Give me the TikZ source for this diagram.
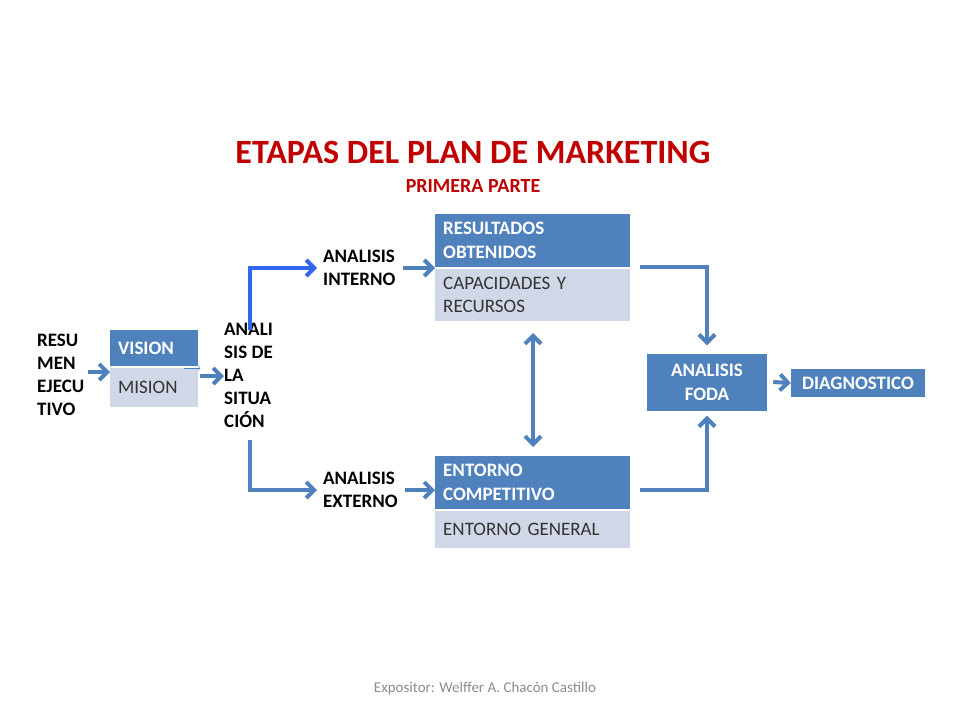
\documentclass[tikz,border=0pt]{standalone}
\usepackage{fontspec}
\setmainfont{Carlito}
\usetikzlibrary{arrows.meta,positioning}
\definecolor{darkbox}{HTML}{4F81BD}
\definecolor{lightbox}{HTML}{D0D8E8}
\definecolor{brightblue}{HTML}{3366EE}
\definecolor{titlered}{HTML}{C00000}
\tikzset{
  headbox/.style={fill=darkbox,text=white,font=\bfseries\fontsize{19}{24}\selectfont,align=left,anchor=north west,inner sep=8pt,text width=#1},
  subbox/.style={fill=lightbox,text=black!80,font=\fontsize{19}{23}\selectfont,align=left,anchor=north west,inner sep=8pt,text width=#1},
  steplabel/.style={font=\bfseries\fontsize{19}{23}\selectfont,align=left,anchor=west,inner sep=0pt},
  flow/.style={line width=4pt,color=darkbox,-{Straight Barb[length=8pt,width=16pt]}},
}
\begin{document}
\begin{tikzpicture}[x=1pt,y=-1pt]
  \useasboundingbox (0,0) rectangle (960,720);

  % titles
  \node[text=titlered,font=\bfseries\fontsize{34}{40}\selectfont] (title) at (473,152) {ETAPAS DEL PLAN DE MARKETING};
  \node[text=titlered,font=\bfseries\fontsize{20}{24}\selectfont] (subtitle) at (473,186) {PRIMERA PARTE};

  % left column
  \node[steplabel] (resumen) at (37,375) {RESU\\MEN\\EJECU\\TIVO};
  \node[headbox=72pt,minimum height=36pt] (vision) at (110,330) {VISION};
  \node[subbox=72pt,minimum height=39pt] (mision) at (110,368) {MISION};
  \node[steplabel] (situacion) at (224,375) {ANALI\\SIS DE\\LA\\SITUA\\CIÓN};

  % middle
  \node[steplabel] (interno) at (323,268) {ANALISIS\\INTERNO};
  \node[steplabel] (externo) at (323,490) {ANALISIS\\EXTERNO};
  \node[headbox=179pt,minimum height=52pt] (resultados) at (435,214) {RESULTADOS\\OBTENIDOS};
  \node[subbox=179pt,minimum height=52pt] (capacidades) at (435,269) {CAPACIDADES Y\\RECURSOS};
  \node[headbox=179pt,minimum height=52pt] (competitivo) at (435,456) {ENTORNO\\COMPETITIVO};
  \node[subbox=179pt,minimum height=37pt] (general) at (435,511) {ENTORNO GENERAL};

  % right
  \node[fill=darkbox,text=white,font=\bfseries\fontsize{19}{24}\selectfont,align=center,minimum width=120pt,minimum height=57pt,inner sep=2pt] (foda) at (707,382) {ANALISIS\\FODA};
  \node[fill=darkbox,text=white,font=\bfseries\fontsize{19}{22}\selectfont,minimum width=134pt,minimum height=28pt,inner sep=2pt] (diagnostico) at (858,383) {DIAGNOSTICO};

  \node[text=black!45,font=\fontsize{15}{18}\selectfont] (expositor) at (485,688) {Expositor: Welffer A. Chacón Castillo};

  % connectors
  \coordinate (s1) at (250,330);
  \coordinate (s2) at (250,440);
  \draw[flow] (88,372) coordinate (r1) -- (vision.west |- r1);
  \draw[flow] (200,376) coordinate (m1) -- (situacion.west |- m1);
  \draw[darkbox,thin,->] (mision.north east)+(-14pt,0) -- +(2pt,0);
  \draw[flow,color=brightblue] (s1) -- (s1 |- interno) -- ([xshift=-6pt]interno.west);
  \draw[flow] (s2) -- (s2 |- externo) -- ([xshift=-6pt]externo.west);
  \draw[flow] (interno.east)+(7pt,0) coordinate (i1) -- (resultados.west |- i1);
  \draw[flow] (externo.east)+(7pt,0) coordinate (e1) -- (competitivo.west |- e1);
  \draw[line width=4pt,color=darkbox,{Straight Barb[length=8pt,width=16pt]}-{Straight Barb[length=8pt,width=16pt]}]
    (533,333) coordinate (c1) -- (533,447) coordinate (c2);
  \draw[flow] (640,267) coordinate (k1) -- (foda.north |- k1) -- ([yshift=8pt]foda.north);
  \draw[flow] (640,490) coordinate (k2) -- (foda.south |- k2) -- ([yshift=-5pt]foda.south);
  \draw[flow] (foda.east)+(6pt,0) -- (diagnostico.west);
\end{tikzpicture}
\end{document}
